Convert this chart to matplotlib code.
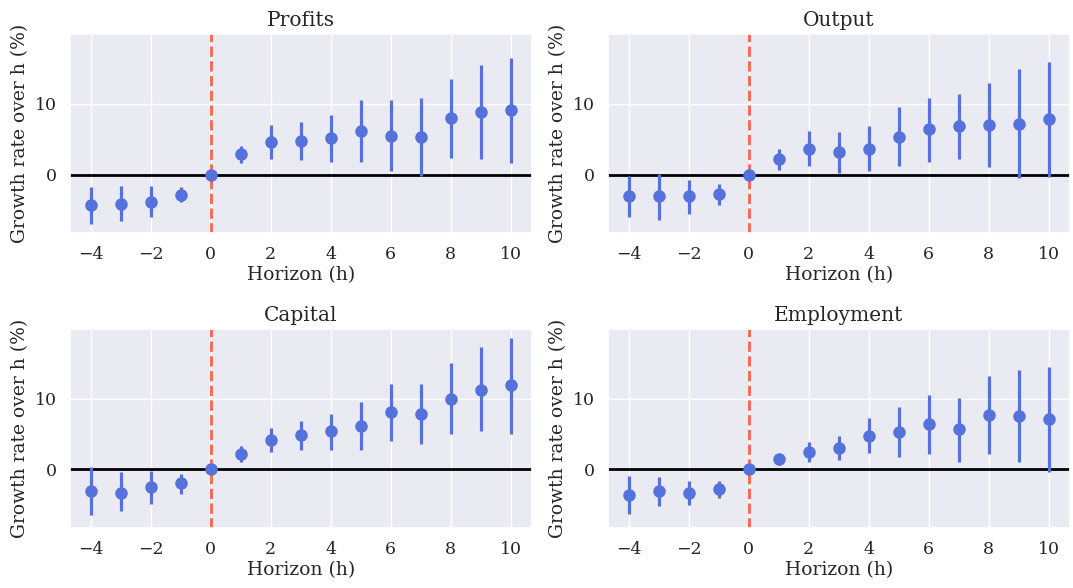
import matplotlib
matplotlib.use("Agg")
import matplotlib.pyplot as plt
import seaborn as sns

horizons = [-4, -3, -2, -1, 0, 1, 2, 3, 4, 5, 6, 7, 8, 9, 10]

profits_est = [-4.3, -4.1, -3.8, -2.8, 0.0, 2.9, 4.6, 4.8, 5.2, 6.2, 5.5, 5.3, 8.0, 8.9, 9.1]
profits_lo = [-7.0, -6.6, -6.0, -3.9, 0.0, 1.7, 2.2, 2.1, 1.75, 1.75, 0.5, -0.2, 2.3, 2.2, 1.6]
profits_hi = [-1.75, -1.66, -1.6, -1.8, 0.0, 4.1, 7.0, 7.4, 8.4, 10.6, 10.5, 10.9, 13.5, 15.5, 16.5]

output_est = [-3.0, -3.0, -3.0, -2.7, 0.0, 2.2, 3.7, 3.2, 3.7, 5.4, 6.4, 6.9, 7.0, 7.2, 7.9]
output_lo = [-6.0, -6.4, -5.6, -4.3, 0.0, 0.6, 1.2, 0.3, 0.5, 1.2, 1.8, 2.2, 1.1, -0.5, -0.3]
output_hi = [-0.2, 0.1, -0.8, -1.3, 0.0, 3.6, 6.2, 6.1, 6.9, 9.6, 10.9, 11.4, 12.9, 14.9, 15.9]

capital_est = [-3.0, -3.3, -2.5, -1.9, 0.0, 2.2, 4.2, 4.9, 5.4, 6.2, 8.1, 7.9, 10.0, 11.3, 11.9]
capital_lo = [-6.5, -5.9, -4.9, -3.4, 0.0, 1.0, 2.5, 2.7, 2.7, 2.8, 4.0, 3.6, 5.0, 5.4, 5.0]
capital_hi = [0.4, -0.4, -0.2, -0.6, 0.0, 3.3, 5.8, 6.9, 7.9, 9.5, 12.1, 12.1, 15.0, 17.3, 18.6]

employment_est = [-3.6, -3.1, -3.3, -2.8, 0.0, 1.5, 2.5, 3.1, 4.8, 5.3, 6.4, 5.7, 7.7, 7.5, 7.1]
employment_lo = [-6.3, -5.2, -5.0, -4.1, 0.0, 0.6, 1.0, 1.3, 2.3, 1.7, 2.2, 1.1, 2.2, 1.0, -0.4]
employment_hi = [-0.9, -1.1, -1.6, -1.7, 0.0, 2.2, 3.9, 4.8, 7.3, 8.8, 10.5, 10.1, 13.2, 14.0, 14.5]

panels = [
    ("Profits", profits_est, profits_lo, profits_hi),
    ("Output", output_est, output_lo, output_hi),
    ("Capital", capital_est, capital_lo, capital_hi),
    ("Employment", employment_est, employment_lo, employment_hi),
]

sns.set_theme(style="darkgrid")
plt.rcParams["font.family"] = ["DejaVu Serif"]

fig, axes = plt.subplots(2, 2, figsize=(10.73, 5.88), dpi=100, sharey=True)
fig.subplots_adjust(left=0.065, right=0.997, top=0.942, bottom=0.102,
                    wspace=0.165, hspace=0.48)

for ax, (title, est, lo, hi) in zip(axes.flat, panels):
    # asymmetric bars: distance from the estimate to each bound
    yerr = [[e - l for e, l in zip(est, lo)], [h - e for e, h in zip(est, hi)]]
    ax.axhline(0, color="black", lw=2, zorder=1)
    ax.axvline(0, color="tomato", lw=2, ls="--", zorder=2)
    ax.errorbar(horizons, est, yerr=yerr, fmt="o", color="#5571dc",
                markersize=8, elinewidth=2.3, capsize=0, zorder=3)
    ax.set_title(title, fontsize=14.5)
    ax.set_xlabel("Horizon (h)", fontsize=13.5, labelpad=2)
    ax.set_ylabel("Growth rate over h (%)", fontsize=13.5)
    ax.tick_params(labelleft=True, labelsize=12.5)

fig.savefig("out.png")
